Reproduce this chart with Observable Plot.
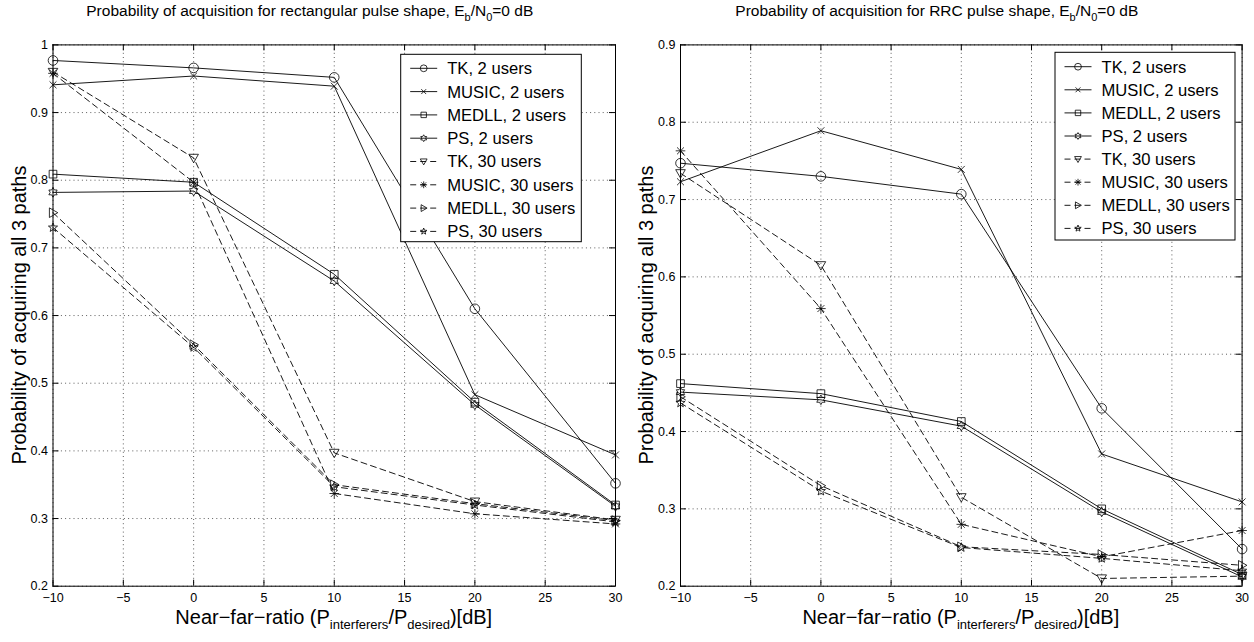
<!DOCTYPE html>
<html>
<head>
<meta charset="utf-8">
<script src="https://cdn.jsdelivr.net/npm/d3@7"></script>
<script src="https://cdn.jsdelivr.net/npm/@observablehq/plot@0.6"></script>
<style>
  html, body { margin: 0; padding: 0; background: #fff; }
  body { font-family: "Liberation Sans", Arial, Helvetica, sans-serif; }
  #wrap { position: relative; width: 1254px; height: 642px; overflow: hidden; }
  .panel { position: absolute; top: 0; width: 627px; height: 642px; }
  .title { position: absolute; top: 0; left: 0; height: 24px; line-height: 22px; font-size: 15.5px; text-align: center; white-space: nowrap; color: #000; }
  .title sub { font-size: 11px; vertical-align: -5px; line-height: 0; }
  .panel svg { position: absolute; top: 24px; left: 0; }
</style>
</head>
<body>
<div id="wrap"></div>
<script>
// ---------------- data ----------------
const nearFar = [-10, 0, 10, 20, 30];
const xTicks = [-10, -5, 0, 5, 10, 15, 20, 25, 30];
const yTicksRect = [0.2, 0.3, 0.4, 0.5, 0.6, 0.7, 0.8, 0.9, 1];
const yTicksRrc = [0.2, 0.3, 0.4, 0.5, 0.6, 0.7, 0.8, 0.9];
const seriesNames = ["TK, 2 users", "MUSIC, 2 users", "MEDLL, 2 users", "PS, 2 users",
                     "TK, 30 users", "MUSIC, 30 users", "MEDLL, 30 users", "PS, 30 users"];
const seriesDashed = [false, false, false, false, true, true, true, true];

// rectangular pulse shape
const rectTK2     = [0.977, 0.966, 0.952, 0.610, 0.352];
const rectMUSIC2  = [0.941, 0.954, 0.939, 0.483, 0.394];
const rectMEDLL2  = [0.809, 0.797, 0.661, 0.472, 0.320];
const rectPS2     = [0.782, 0.784, 0.651, 0.468, 0.318];
const rectTK30    = [0.960, 0.833, 0.397, 0.325, 0.298];
const rectMUSIC30 = [0.958, 0.797, 0.337, 0.307, 0.292];
const rectMEDLL30 = [0.752, 0.557, 0.350, 0.322, 0.297];
const rectPS30    = [0.730, 0.553, 0.347, 0.320, 0.295];

// RRC pulse shape
const rrcTK2     = [0.747, 0.730, 0.707, 0.430, 0.248];
const rrcMUSIC2  = [0.723, 0.789, 0.739, 0.371, 0.309];
const rrcMEDLL2  = [0.462, 0.449, 0.413, 0.300, 0.215];
const rrcPS2     = [0.451, 0.441, 0.407, 0.296, 0.212];
const rrcTK30    = [0.734, 0.615, 0.315, 0.210, 0.213];
const rrcMUSIC30 = [0.763, 0.559, 0.280, 0.238, 0.272];
const rrcMEDLL30 = [0.445, 0.330, 0.251, 0.241, 0.227];
const rrcPS30    = [0.437, 0.323, 0.250, 0.236, 0.220];

const titleRect = ["Probability of acquisition for rectangular pulse shape, E", "b", "/N", "0", "=0 dB"];
const titleRrc  = ["Probability of acquisition for RRC pulse shape, E", "b", "/N", "0", "=0 dB"];
const yLabel = "Probability of acquiring all 3 paths";
const xLabel = ["Near\u2212far\u2212ratio (P", "interferers", "/P", "desired", ")[dB]"];

// ---------------- marker symbols (MATLAB style) ----------------
const sym = f => ({ draw(ctx, size) { f(ctx, Math.sqrt(size / Math.PI)); } });
const poly = (c, pts) => { c.moveTo(pts[0][0], pts[0][1]); for (let i = 1; i < pts.length; i++) c.lineTo(pts[i][0], pts[i][1]); c.closePath(); };
const starPts = (n, ro, ri, rot) => { const p = []; for (let i = 0; i < 2 * n; i++) { const a = rot + i * Math.PI / n; const rr = i % 2 ? ri : ro; p.push([rr * Math.sin(a), -rr * Math.cos(a)]); } return p; };
const symCircle = sym((c, r) => { c.moveTo(r, 0); c.arc(0, 0, r, 0, 2 * Math.PI); });
const symTimes = sym((c, r) => { const a = r * 0.72; c.moveTo(-a, -a); c.lineTo(a, a); c.moveTo(-a, a); c.lineTo(a, -a); });
const symSquare = sym((c, r) => { const a = r * 0.8; c.rect(-a, -a, 2 * a, 2 * a); });
const symHexagram = sym((c, r) => poly(c, starPts(6, r, r * 0.58, 0)));
const symTriDown = sym((c, r) => poly(c, [[-r, -r * 0.75], [r, -r * 0.75], [0, r]]));
const symAsterisk = sym((c, r) => { const a = r * 0.72; c.moveTo(0, -r); c.lineTo(0, r); c.moveTo(-r, 0); c.lineTo(r, 0); c.moveTo(-a, -a); c.lineTo(a, a); c.moveTo(-a, a); c.lineTo(a, -a); });
const symTriRight = sym((c, r) => poly(c, [[-r * 0.75, -r], [-r * 0.75, r], [r, 0]]));
const symPentagram = sym((c, r) => poly(c, starPts(5, r, r * 0.42, 0)));
const seriesSymbols = [symCircle, symTimes, symSquare, symHexagram, symTriDown, symAsterisk, symTriRight, symPentagram];

const fmt = d3.format("~g");
const FONT = "'Liberation Sans', Arial, Helvetica, sans-serif";

function chart(cfg) {
  const W = 627, H = 618, mT = 20.4, mB = 56.3;
  const { values, yDomain, yTicks, mL, mR, legend } = cfg;
  const plotW = W - mL - mR, plotH = H - mT - mB;
  const data = seriesNames.map((name, i) => nearFar.map((x, j) => ({ x, y: values[i][j], name, k: i })));
  const solid = data.filter((d, i) => !seriesDashed[i]).flat();
  const dashed = data.filter((d, i) => seriesDashed[i]).flat();
  const gridStyle = { stroke: "#000", strokeOpacity: 0.8, strokeWidth: 0.8, strokeDasharray: "1,3.2" };
  const tickStyle = { stroke: "#000", strokeWidth: 1 };
  const svg = Plot.plot({
    width: W, height: H,
    marginLeft: mL, marginRight: mR, marginTop: mT, marginBottom: mB,
    style: { fontSize: "12.5px", fontFamily: FONT, background: "#fff", color: "#000" },
    x: { type: "linear", domain: [-10, 30] },
    y: { type: "linear", domain: yDomain },
    marks: [
      Plot.gridX(xTicks, gridStyle),
      Plot.gridY(yTicks, gridStyle),
      Plot.tickY(yTicks, { y: d => d, insetRight: plotW - 6, ...tickStyle }),
      Plot.tickY(yTicks, { y: d => d, insetLeft: plotW - 6, ...tickStyle }),
      Plot.tickX(xTicks, { x: d => d, insetTop: plotH - 6, ...tickStyle }),
      Plot.tickX(xTicks, { x: d => d, insetBottom: plotH - 6, ...tickStyle }),
      Plot.axisX(xTicks, { tickSize: 0, tickPadding: 7, tickFormat: fmt, label: null, fill: "#000" }),
      Plot.axisY(yTicks, { tickSize: 0, tickPadding: 5, tickFormat: fmt, label: null, fill: "#000" }),
      Plot.line(solid, { x: "x", y: "y", z: "name", stroke: "#000", strokeWidth: 0.9 }),
      Plot.line(dashed, { x: "x", y: "y", z: "name", stroke: "#000", strokeWidth: 0.9, strokeDasharray: "6,4" }),
      ...data.map((rows, i) => Plot.dot(rows, { x: "x", y: "y", symbol: seriesSymbols[i], r: 4.8, stroke: "#000", fill: "none", strokeWidth: 0.8 })),
      Plot.frame({ stroke: "#000", strokeWidth: 1 })
    ]
  });

  const s = d3.select(svg);
  // legend
  const g = s.append("g").attr("font-family", FONT).attr("font-size", 16.6).attr("text-anchor", "start");
  g.append("rect").attr("x", legend.x).attr("y", legend.y).attr("width", legend.w).attr("height", legend.h)
    .attr("fill", "#fff").attr("stroke", "#000").attr("stroke-width", 1);
  seriesNames.forEach((name, i) => {
    const yy = legend.y + legend.first + i * legend.dy;
    const lx = legend.x + 9.5;
    g.append("line").attr("x1", lx).attr("x2", lx + 27).attr("y1", yy).attr("y2", yy)
      .attr("stroke", "#000").attr("stroke-width", 0.9).attr("stroke-dasharray", seriesDashed[i] ? "6,4" : null);
    const p = d3.path(); seriesSymbols[i].draw(p, Math.PI * 3.4 * 3.4);
    g.append("path").attr("d", p.toString()).attr("transform", `translate(${lx + 13.5},${yy})`)
      .attr("fill", "none").attr("stroke", "#000").attr("stroke-width", 0.8);
    g.append("text").attr("x", lx + 37).attr("y", yy).attr("dy", "0.36em").attr("text-anchor", "start")
      .attr("fill", "#000").text(name);
  });
  // x label
  const xl = s.append("text").attr("x", mL + plotW / 2).attr("y", 600).attr("text-anchor", "middle")
    .attr("font-family", FONT).attr("font-size", 20).attr("fill", "#000");
  xLabel.forEach((t, i) => {
    const sub = i % 2 === 1;
    xl.append("tspan").attr("font-size", sub ? 13 : 20).attr("dy", i === 0 ? 0 : (sub ? 5 : -5)).text(t);
  });
  // y label
  s.append("text").attr("transform", `translate(${mL - 27},${mT + plotH / 2}) rotate(-90)`)
    .attr("text-anchor", "middle").attr("font-family", FONT).attr("font-size", 20).attr("fill", "#000").text(yLabel);
  return svg;
}

function panel(left, titleParts, cfg) {
  const div = document.createElement("div");
  div.className = "panel"; div.style.left = left + "px";
  const t = document.createElement("div");
  t.className = "title";
  t.style.left = (cfg.mL - 24) + "px"; t.style.width = (627 - cfg.mL - cfg.mR) + "px";
  titleParts.forEach((part, i) => {
    if (i % 2 === 1) { const sb = document.createElement("sub"); sb.textContent = part; t.appendChild(sb); }
    else t.appendChild(document.createTextNode(part));
  });
  div.appendChild(t);
  div.appendChild(chart(cfg));
  document.getElementById("wrap").appendChild(div);
}

panel(0, titleRect, {
  values: [rectTK2, rectMUSIC2, rectMEDLL2, rectPS2, rectTK30, rectMUSIC30, rectMEDLL30, rectPS30],
  yDomain: [0.2, 1], yTicks: yTicksRect, mL: 52.5, mR: 12,
  legend: { x: 400.7, y: 30.3, w: 180.6, h: 187.4, first: 14, dy: 23.3 }
});
panel(627, titleRrc, {
  values: [rrcTK2, rrcMUSIC2, rrcMEDLL2, rrcPS2, rrcTK30, rrcMUSIC30, rrcMEDLL30, rrcPS30],
  yDomain: [0.2, 0.9], yTicks: yTicksRrc, mL: 53, mR: 12.4,
  legend: { x: 428, y: 28.3, w: 180, h: 187.7, first: 14.4, dy: 23.1 }
});
</script>
</body>
</html>
